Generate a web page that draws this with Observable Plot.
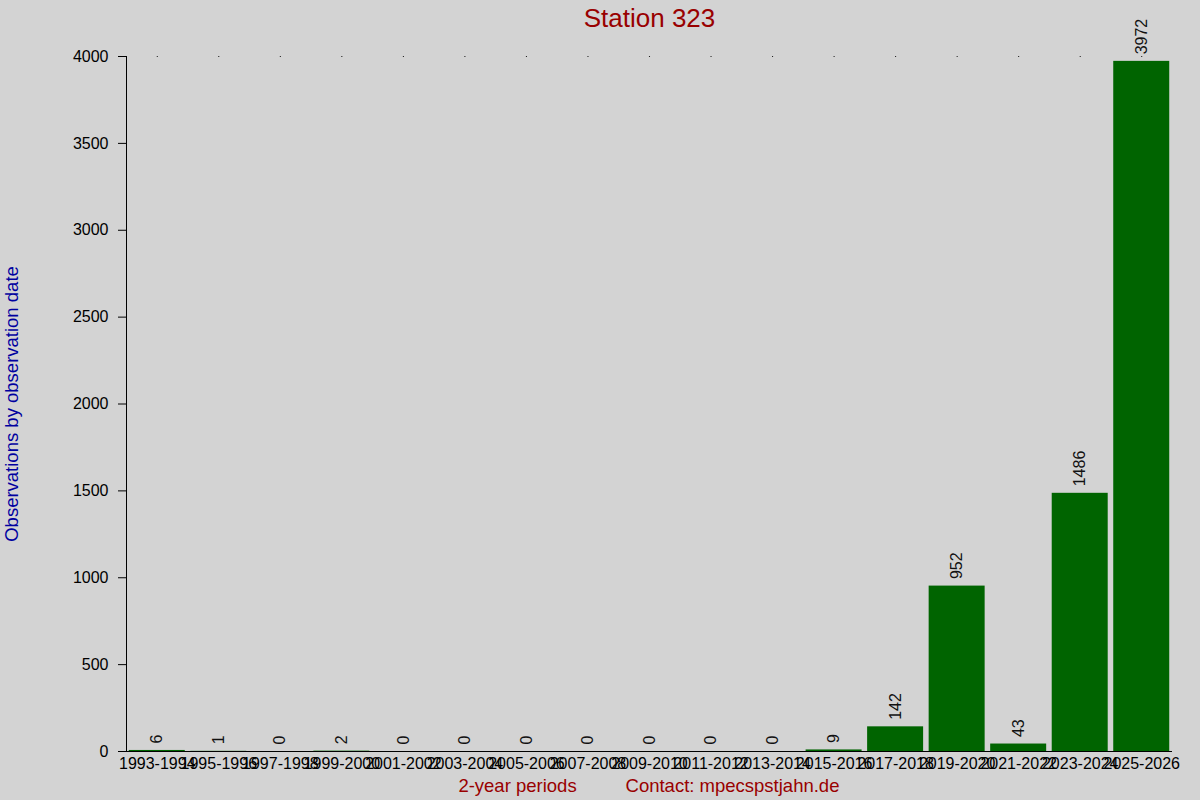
<!DOCTYPE html>
<html>
<head>
<meta charset="utf-8">
<script src="https://cdn.jsdelivr.net/npm/d3@7"></script>
<script src="https://cdn.jsdelivr.net/npm/@observablehq/plot@0.6"></script>
<style>
  html, body { margin: 0; padding: 0; background: #d3d3d3; }
  #chart svg { display: block; }
</style>
</head>
<body>
<div id="chart"></div>
<script>
const periods = ["1993-1994","1995-1996","1997-1998","1999-2000","2001-2002","2003-2004","2005-2006","2007-2008","2009-2010","2011-2012","2013-2014","2015-2016","2017-2018","2019-2020","2021-2022","2023-2024","2025-2026"];
const counts = [6, 1, 0, 2, 0, 0, 0, 0, 0, 0, 0, 9, 142, 952, 43, 1486, 3972];
const yTicks = [0, 500, 1000, 1500, 2000, 2500, 3000, 3500, 4000];

const data = periods.map((p, i) => ({period: p, count: counts[i]}));
const FONT = "'Liberation Sans', Arial, Helvetica, sans-serif";

const chart = Plot.plot({
  width: 1200,
  height: 800,
  marginLeft: 126,
  marginRight: 28,
  marginTop: 56,
  marginBottom: 49,
  style: {background: "#d3d3d3", fontFamily: FONT, fontSize: "16px", color: "#000", overflow: "visible"},
  x: {domain: periods, paddingInner: 0.09, paddingOuter: 0.045, round: false, label: null},
  y: {domain: [0, 4000], label: null},
  marks: [
    Plot.barY(data, {x: "period", y: "count", fill: "#006400"}),
    Plot.dot(periods, {x: d => d, y: () => 4000, r: 0.6, fill: "#000", stroke: null}),
    Plot.text(data, {x: "period", y: "count", text: d => String(d.count), rotate: -90, textAnchor: "start", lineAnchor: "middle", dy: -7, fontSize: 16, fill: "#111"}),
    Plot.ruleY([0], {stroke: "#000", strokeWidth: 1}),
    Plot.frame({anchor: "left", stroke: "#000"}),
    Plot.axisY({ticks: yTicks, tickSize: 8, tickPadding: 10, fontSize: 16, label: null, tickFormat: d => String(d)}),
    Plot.axisX({tickSize: 0, tickPadding: 6, fontSize: 16, label: null}),
    Plot.text(["Station 323"], {frameAnchor: "top", dy: -38, fontSize: 26, fill: "#990000", lineAnchor: "middle"}),
    Plot.text(["Observations by observation date"], {frameAnchor: "left", dx: -114, rotate: -90, textAnchor: "middle", fontSize: 18.5, fill: "#0000a0", lineAnchor: "middle"}),
    Plot.text(["2-year periods"], {frameAnchor: "bottom", dx: -132, dy: 35, fontSize: 18.5, fill: "#990000", lineAnchor: "middle"}),
    Plot.text(["Contact: mpecspstjahn.de"], {frameAnchor: "bottom", dx: 83, dy: 35, fontSize: 18.5, fill: "#990000", lineAnchor: "middle"})
  ]
});
document.getElementById("chart").appendChild(chart);
</script>
</body>
</html>
